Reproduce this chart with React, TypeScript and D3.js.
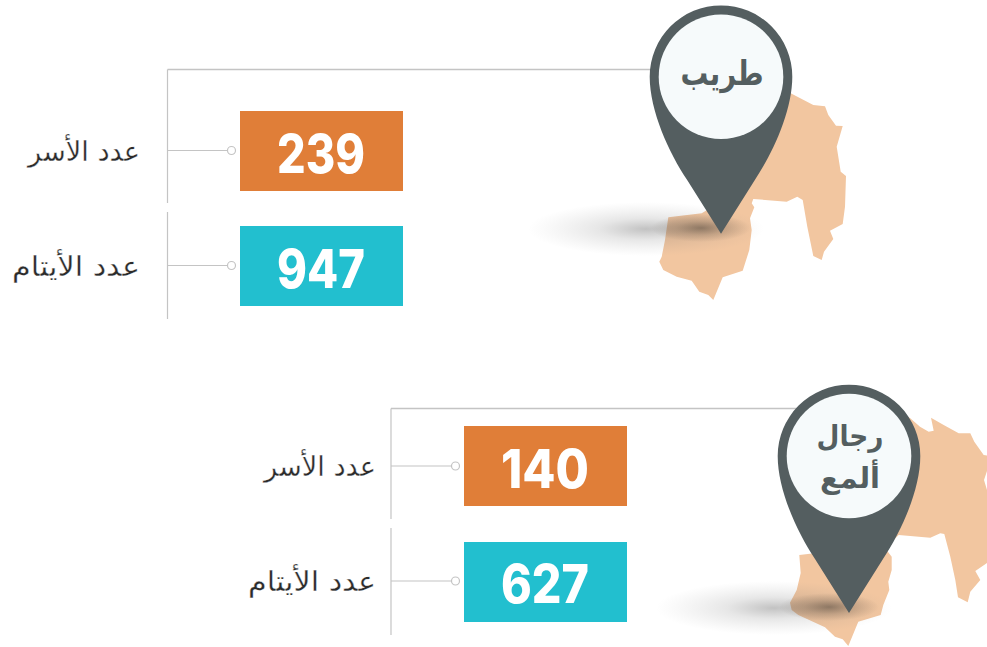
import React from "react";
import * as d3 from "d3";

const placeNames = [["طريب"], ["رجال", "ألمع"]];
const rowLabels = ["عدد الأسر", "عدد الأيتام"];
const familyCounts = [239, 140];
const orphanCounts = [947, 627];

const outlineTareeb: [number, number][] = [
  [780, 90], [790.7, 93.3], [813.3, 105], [825, 106.3], [828.3, 115], [836, 125.7], [842.7, 126], [836.7, 146.7],
  [840.7, 171.7], [846, 176], [845, 206.7], [842.7, 224], [830, 230.7], [833.3, 239], [824, 251.7], [821.7, 260],
  [813.3, 256], [807.3, 226.7], [802.7, 200], [797.3, 196.7], [786.7, 201.7], [753.3, 199], [751.7, 203.3],
  [754.3, 207.3], [750, 218.3], [751.7, 230], [749.3, 250], [742.7, 270.7], [722.7, 277.3], [713.3, 300],
  [708.3, 295], [699.3, 291.7], [691.7, 280.7], [676.7, 276.7], [663.3, 270], [659.3, 261.7], [661.7, 256.7],
  [665, 240], [668.3, 217.3], [701.7, 213.3], [740, 190],
];
const outlineRijal: [number, number][] = [
  [905, 415], [910.3, 418.3], [920, 426.7], [928.7, 431.7], [933.7, 430.7], [931, 417.7], [943.7, 425], [958.7, 433.3],
  [970.3, 433.3], [974.3, 441.7], [983.7, 455], [992, 456], [984, 480], [990, 500], [1000, 530], [990, 561],
  [975.3, 571], [980.3, 580], [970.3, 591.7], [967.7, 602.3], [958, 597.3], [955.3, 580], [950.3, 556.7], [944.3, 534],
  [940.3, 533.3], [930.3, 537.7], [898.7, 535], [885, 548], [891.7, 556.7], [891.7, 570], [888.3, 581.7], [889.3, 590],
  [883.3, 605], [880.7, 615], [858.3, 621.7], [848.3, 646], [842.7, 639.3], [835, 636.7], [825, 627.3], [798.3, 615],
  [791.7, 610], [790, 602.7], [796.7, 590], [800.7, 573], [799.3, 555], [825, 552], [880, 480],
];

const layout = [
  { axisX: 167.5, topY: 69.5, pinX: 721, pinY: 76.7, tipY: 234, labelRight: 140, lineEnd: 655, rows: [150.5, 265.5], boxY: [111, 226], boxX: 240, outline: outlineTareeb, names: placeNames[0], nameY: [85], nameSize: 34, nameW: [83], vert: [[69.5, 203], [212, 319]] },
  { axisX: 391, topY: 408.5, pinX: 849, pinY: 456, tipY: 613, labelRight: 376, lineEnd: 800, rows: [466, 581], boxY: [426, 542], boxX: 464, outline: outlineRijal, names: placeNames[1], nameY: [446, 488], nameSize: 29, nameW: [67, 60], vert: [[408.5, 519], [528, 635]] },
];
const labelWidths = [112, 128];

const GREY = "#c4c4c4";
const rowColors = ["#e07e38", "#22bfcf"];
const line = d3.line<[number, number]>().x((d) => d[0]).y((d) => d[1]).curve(d3.curveLinearClosed);

function pinPath() {
  const p = d3.path();
  p.moveTo(0, 157);
  p.lineTo(-34, 103);
  p.bezierCurveTo(-52, 76, -71.3, 34, -71.3, 0);
  p.arc(0, 0, 71.3, Math.PI, 0);
  p.bezierCurveTo(71.3, 34, 52, 76, 34, 103);
  p.closePath();
  return p.toString();
}

export default function App() {
  return (
    <svg width={987} height={647} style={{ position: "absolute", left: 0, top: 0, background: "#fff" }}>
      <defs>
        <radialGradient id="wide">
          <stop offset="0" stopColor="#555" stopOpacity={0.36} />
          <stop offset="0.4" stopColor="#666" stopOpacity={0.16} />
          <stop offset="1" stopColor="#888" stopOpacity={0} />
        </radialGradient>
        <radialGradient id="core">
          <stop offset="0" stopColor="#4c4238" stopOpacity={0.55} />
          <stop offset="0.5" stopColor="#4c4238" stopOpacity={0.22} />
          <stop offset="1" stopColor="#4c4238" stopOpacity={0} />
        </radialGradient>
      </defs>
      {layout.map((g, i) => {
        const values = [familyCounts[i], orphanCounts[i]];
        return (
          <g key={i}>
            <path d={line(g.outline) ?? ""} fill="#f2c6a0" />
            <ellipse cx={g.pinX - 75} cy={g.tipY - 5} rx={118} ry={27} fill="url(#wide)" />
            <ellipse cx={g.pinX - 20} cy={g.tipY - 6} rx={50} ry={14} fill="url(#core)" />
            <path d={`M${g.axisX},${g.topY}H${g.lineEnd}`} stroke={GREY} strokeWidth={1.5} fill="none" />
            {g.vert.map((v, k) => (
              <line key={k} x1={g.axisX} x2={g.axisX} y1={v[0]} y2={v[1]} stroke={GREY} strokeWidth={1.2} />
            ))}
            {values.map((val, r) => (
              <g key={r}>
                <line x1={g.axisX} x2={g.boxX - 13} y1={g.rows[r]} y2={g.rows[r]} stroke={GREY} strokeWidth={1.2} />
                <circle cx={g.boxX - 8.5} cy={g.rows[r]} r={4} fill="#fff" stroke={GREY} strokeWidth={1.2} />
                <rect x={g.boxX} y={g.boxY[r]} width={163} height={80} fill={rowColors[r]} />
                <text x={g.boxX + 81} y={g.rows[r] + 22} textAnchor="middle" fontFamily="Inter" fontWeight={800} fontSize={53} fill="#fff" textLength={88} lengthAdjust="spacingAndGlyphs">{val}</text>
                <text x={g.labelRight - labelWidths[r] / 2} y={g.rows[r] + 10} textAnchor="middle" fontFamily="DejaVu Sans" fontSize={28} fill="#2b2b2b" stroke="#fff" strokeWidth={0.3} textLength={labelWidths[r]} lengthAdjust="spacingAndGlyphs">{rowLabels[r]}</text>
              </g>
            ))}
            <g transform={`translate(${g.pinX},${g.pinY})`}>
              <path d={pinPath()} fill="#545e60" />
              <circle r={62.3} fill="#f6fafb" />
            </g>
            {g.names.map((n, k) => (
              <text key={k} x={g.pinX + 1} y={g.nameY[k]} textAnchor="middle" fontFamily="DejaVu Sans" fontWeight={700} fontSize={g.nameSize} fill="#545e60" textLength={g.nameW[k]} lengthAdjust="spacingAndGlyphs">{n}</text>
            ))}
          </g>
        );
      })}
    </svg>
  );
}
